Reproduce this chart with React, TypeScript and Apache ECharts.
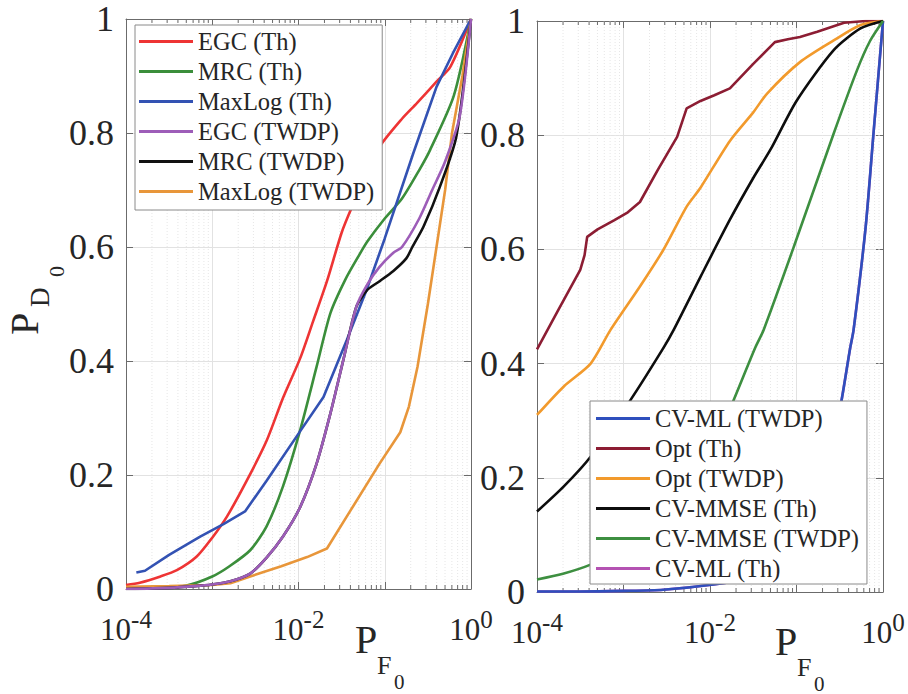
import React, { useEffect, useRef } from "react";
import * as echarts from "echarts";

const FONT = "'Liberation Serif', 'Times New Roman', serif";
const TXT = "#262626";
const AXIS = "#6b6b6b";

// ---- Left panel (x = log10 P_F0, y = P_D0) ----
const egcThLogPf = [-4, -3.84, -3.6, -3.41, -3.18, -3.0, -2.83, -2.6, -2.37, -2.18, -1.98, -1.83, -1.67, -1.5, -1.38, -1.2, -1.06, -0.8, -0.63, -0.4, -0.24, 0];
const egcThPd = [0.007, 0.011, 0.022, 0.033, 0.057, 0.09, 0.127, 0.19, 0.26, 0.335, 0.405, 0.47, 0.54, 0.625, 0.67, 0.73, 0.776, 0.825, 0.852, 0.89, 0.916, 1.0];

const mrcThLogPf = [-4, -3.6, -3.3, -3.0, -2.8, -2.56, -2.37, -2.18, -1.98, -1.79, -1.63, -1.46, -1.3, -1.2, -1.0, -0.8, -0.6, -0.475, -0.2, 0];
const mrcThPd = [0.001, 0.002, 0.006, 0.022, 0.04, 0.068, 0.11, 0.18, 0.279, 0.39, 0.484, 0.542, 0.585, 0.61, 0.65, 0.685, 0.735, 0.77, 0.865, 1.0];

const maxLogThLogPf = [-3.88, -3.78, -3.5, -3.14, -2.87, -2.62, -2.37, -1.98, -1.71, -1.44, -1.21, -1.0, -0.67, -0.4, -0.21, 0];
const maxLogThPd = [0.029, 0.032, 0.06, 0.092, 0.114, 0.136, 0.19, 0.277, 0.337, 0.437, 0.525, 0.615, 0.764, 0.881, 0.94, 1.0];

const egcTwdpLogPf = [-4, -3.5, -3.2, -3.0, -2.8, -2.56, -2.37, -2.18, -1.98, -1.79, -1.63, -1.48, -1.33, -1.2, -1.06, -0.9, -0.8, -0.6, -0.45, -0.3, -0.13, 0];
const egcTwdpPd = [0.0, 0.002, 0.005, 0.008, 0.013, 0.027, 0.055, 0.092, 0.144, 0.22, 0.308, 0.402, 0.495, 0.535, 0.565, 0.59, 0.6, 0.65, 0.7, 0.75, 0.83, 1.0];

const mrcTwdpLogPf = [-4, -3.5, -3.2, -3.0, -2.8, -2.56, -2.37, -2.18, -1.98, -1.79, -1.63, -1.48, -1.33, -1.2, -1.06, -0.9, -0.75, -0.68, -0.55, -0.36, -0.17, 0];
const mrcTwdpPd = [0.0, 0.002, 0.005, 0.008, 0.013, 0.027, 0.055, 0.092, 0.144, 0.22, 0.308, 0.402, 0.495, 0.525, 0.54, 0.558, 0.58, 0.6, 0.636, 0.706, 0.794, 1.0];

const maxLogTwdpLogPf = [-4, -3.5, -3.0, -2.79, -2.56, -2.2, -1.9, -1.67, -1.4, -1.06, -0.82, -0.72, -0.62, -0.5, -0.4, -0.3, -0.22, -0.1, 0];
const maxLogTwdpPd = [0.004, 0.005, 0.007, 0.01, 0.022, 0.04, 0.056, 0.071, 0.137, 0.22, 0.275, 0.32, 0.39, 0.5, 0.6, 0.7, 0.8, 0.9, 1.0];

// ---- Right panel ----
const cvMlTwdpLogPf = [-4, -3.5, -3.0, -2.54, -1.96, -1.57, -1.3, -1.0, -0.75, -0.6, -0.48, -0.38, -0.34, -0.2, -0.11, 0];
const cvMlTwdpPd = [0.001, 0.001, 0.002, 0.004, 0.013, 0.024, 0.045, 0.09, 0.17, 0.245, 0.335, 0.427, 0.459, 0.64, 0.803, 1.0];

const optThLogPf = [-4, -3.75, -3.5, -3.45, -3.42, -3.3, -3.11, -2.95, -2.81, -2.6, -2.38, -2.27, -2.11, -1.95, -1.77, -1.5, -1.25, -1.1, -0.96, -0.76, -0.45, -0.2, 0];
const optThPd = [0.425, 0.495, 0.564, 0.59, 0.622, 0.635, 0.651, 0.665, 0.683, 0.74, 0.797, 0.847, 0.86, 0.87, 0.882, 0.925, 0.963, 0.968, 0.972, 0.981, 0.997, 1.0, 1.0];

const optTwdpLogPf = [-4, -3.69, -3.38, -3.15, -2.81, -2.54, -2.27, -2.11, -1.77, -1.5, -1.34, -0.96, -0.57, -0.26, 0];
const optTwdpPd = [0.31, 0.36, 0.4, 0.459, 0.535, 0.599, 0.675, 0.708, 0.79, 0.84, 0.873, 0.928, 0.966, 0.993, 1.0];

const cvMmseThLogPf = [-4, -3.69, -3.38, -2.92, -2.54, -2.42, -2.11, -1.77, -1.5, -1.3, -1.0, -0.57, -0.26, 0];
const cvMmseThPd = [0.141, 0.185, 0.237, 0.336, 0.427, 0.459, 0.552, 0.652, 0.725, 0.775, 0.86, 0.949, 0.987, 1.0];

const cvMmseTwdpLogPf = [-4, -3.7, -3.38, -3.0, -2.5, -2.0, -1.73, -1.48, -1.38, -1.03, -0.57, -0.3, -0.15, 0];
const cvMmseTwdpPd = [0.022, 0.032, 0.048, 0.075, 0.135, 0.24, 0.335, 0.427, 0.459, 0.605, 0.803, 0.914, 0.965, 1.0];

const cvMlThLogPf = [-4, -3.5, -3.0, -2.54, -1.96, -1.57, -1.3, -1.0, -0.75, -0.6, -0.48, -0.38, -0.34, -0.2, -0.11, 0];
const cvMlThPd = [0.001, 0.001, 0.002, 0.004, 0.013, 0.024, 0.045, 0.09, 0.17, 0.245, 0.335, 0.427, 0.459, 0.64, 0.803, 1.0];

const leftNames = ["EGC (Th)", "MRC (Th)", "MaxLog (Th)", "EGC (TWDP)", "MRC (TWDP)", "MaxLog (TWDP)"];
const rightNames = ["CV-ML (TWDP)", "Opt (Th)", "Opt (TWDP)", "CV-MMSE (Th)", "CV-MMSE (TWDP)", "CV-ML (Th)"];

const xDecades = [-4, -3, -2, -1];
const xLabelExponents = [-4, -2, 0];
const minorMultipliers = [2, 3, 4, 5, 6, 7, 8, 9];

const zip = (xs: number[], ys: number[]) => xs.map((x, i) => [x, ys[i]]);

export default function App() {
  const ref = useRef<HTMLDivElement>(null);
  useEffect(() => {
    if (!ref.current) return;
    const chart = echarts.init(ref.current, null, { renderer: "svg" });

    const minorPositions: number[][] = [];
    xDecades.forEach((d) => minorMultipliers.forEach((k) => minorPositions.push([d + Math.log10(k), 0])));

    const xLabelFmt = (v: number) => {
      const r = Math.round(v);
      if (Math.abs(v - r) > 1e-9 || !xLabelExponents.includes(r)) return "";
      return `{b|10}{e|${r}}`;
    };
    const yLabelFmt = (v: number) => (v === 0 || v === 1 ? String(v) : v.toFixed(1));

    const mkX = (gridIndex: number, position: "top" | "bottom", labels: boolean) => ({
      type: "value",
      gridIndex,
      position,
      min: -4,
      max: 0,
      interval: 1,
      axisLine: { show: true, onZero: false, lineStyle: { color: AXIS, width: 1 } },
      axisTick: { show: true, inside: true, length: 7, lineStyle: { color: AXIS } },
      axisLabel: {
        show: labels,
        formatter: xLabelFmt,
        margin: 24,
        rich: {
          b: { fontFamily: FONT, fontSize: 31, color: TXT, verticalAlign: "bottom", lineHeight: 32 },
          e: { fontFamily: FONT, fontSize: 25, color: TXT, verticalAlign: "bottom", lineHeight: 25, padding: [0, 0, 13, 0] },
        },
      },
      splitLine: { show: labels, lineStyle: { color: "#e2e2e2", width: 1 } },
    });
    const mkY = (gridIndex: number, position: "left" | "right", labels: boolean) => ({
      type: "value",
      gridIndex,
      position,
      min: 0,
      max: 1,
      interval: 0.2,
      axisLine: { show: true, onZero: false, lineStyle: { color: AXIS, width: 1 } },
      axisTick: { show: true, inside: true, length: 7, lineStyle: { color: AXIS } },
      axisLabel: { show: labels, formatter: yLabelFmt, margin: 12, fontFamily: FONT, fontSize: 36, color: TXT },
      splitLine: { show: labels, lineStyle: { color: "#e2e2e2", width: 1 } },
    });

    const minorSeries = (xi: number, yi: number) => ({
      type: "custom",
      xAxisIndex: xi,
      yAxisIndex: yi,
      silent: true,
      z: 1,
      data: minorPositions,
      renderItem: (_p: any, api: any) => {
        const v = api.value(0);
        const top = api.coord([v, 1]);
        const bot = api.coord([v, 0]);
        return {
          type: "group",
          children: [
            { type: "line", shape: { x1: bot[0], y1: bot[1], x2: top[0], y2: top[1] }, style: { stroke: "#e6e6e6", lineWidth: 1, lineDash: [1, 2] } },
            { type: "line", shape: { x1: bot[0], y1: bot[1], x2: bot[0], y2: bot[1] - 4 }, style: { stroke: AXIS, lineWidth: 1 } },
            { type: "line", shape: { x1: top[0], y1: top[1], x2: top[0], y2: top[1] + 4 }, style: { stroke: AXIS, lineWidth: 1 } },
          ],
        };
      },
    });

    const line = (name: string, xs: number[], ys: number[], color: string, xi: number, yi: number, z = 2, smooth: number | boolean = false) => ({
      name,
      type: "line",
      xAxisIndex: xi,
      yAxisIndex: yi,
      data: zip(xs, ys),
      showSymbol: false,
      symbol: "none",
      smooth,
      z,
      lineStyle: { color, width: 2.6 },
      itemStyle: { color },
    });

    const legendBase = {
      orient: "vertical",
      icon: "rect",
      itemWidth: 54,
      itemHeight: 3,
      itemGap: 5,
      backgroundColor: "#ffffff",
      borderColor: "#8a8a8a",
      borderWidth: 1,
      borderRadius: 0,
      textStyle: { fontFamily: FONT, fontSize: 24.5, color: TXT, lineHeight: 24 },
      selectedMode: false,
    };

    const txt = (text: string, x: number, y: number, size: number) => ({
      type: "text",
      x,
      y,
      style: { text, fontFamily: FONT, fontSize: size, fill: TXT, verticalAlign: "top" },
    });
    const ylab = (x: number, y: number) => ({
      type: "group",
      x,
      y,
      rotation: Math.PI / 2,
      children: [txt("P", 0, 0, 40), txt("D", 28, 22, 27), txt("0", 58, 41, 22)],
    });
    const xlab = (x: number, y: number) => ({
      type: "group",
      x,
      y,
      children: [txt("P", 0, 0, 40), txt("F", 22, 33, 26), txt("0", 39, 52, 21)],
    });

    chart.setOption({
      animation: false,
      backgroundColor: "#ffffff",
      grid: [
        { left: 126, top: 19, width: 345, height: 570 },
        { left: 537, top: 21, width: 346, height: 571 },
      ],
      xAxis: [mkX(0, "bottom", true), mkX(0, "top", false), mkX(1, "bottom", true), mkX(1, "top", false)],
      yAxis: [mkY(0, "left", true), mkY(0, "right", false), mkY(1, "left", true), mkY(1, "right", false)],
      legend: [
        { ...legendBase, data: leftNames, left: 135, top: 25, padding: [4, 8, 6, 4] },
        { ...legendBase, data: rightNames, left: 590, top: 401, padding: [5, 8, 3, 6] },
      ],
      graphic: [ylab(4, 335), xlab(355, 619), xlab(775, 621)],
      series: [
        minorSeries(0, 0),
        minorSeries(2, 2),
        line(leftNames[0], egcThLogPf, egcThPd, "#ee3434", 0, 0, 2, 0.25),
        line(leftNames[1], mrcThLogPf, mrcThPd, "#3b8e3b", 0, 0, 2, 0.25),
        line(leftNames[2], maxLogThLogPf, maxLogThPd, "#3352b3", 0, 0),
        line(leftNames[3], egcTwdpLogPf, egcTwdpPd, "#9d5db8", 0, 0, 4, 0.25),
        line(leftNames[4], mrcTwdpLogPf, mrcTwdpPd, "#111111", 0, 0, 3, 0.25),
        line(leftNames[5], maxLogTwdpLogPf, maxLogTwdpPd, "#e8963a", 0, 0),
        line(rightNames[5], cvMlThLogPf, cvMlThPd, "#b452b2", 2, 2, 2, 0.25),
        line(rightNames[0], cvMlTwdpLogPf, cvMlTwdpPd, "#2f4fbd", 2, 2, 3, 0.25),
        line(rightNames[1], optThLogPf, optThPd, "#8c1d33", 2, 2, 3),
        line(rightNames[2], optTwdpLogPf, optTwdpPd, "#f29a2c", 2, 2, 3, 0.25),
        line(rightNames[3], cvMmseThLogPf, cvMmseThPd, "#0d0d0d", 2, 2, 3, 0.25),
        line(rightNames[4], cvMmseTwdpLogPf, cvMmseTwdpPd, "#3d8f40", 2, 2, 3, 0.25),
      ],
    });
    return () => chart.dispose();
  }, []);
  return <div ref={ref} style={{ position: "fixed", left: 0, top: 0, width: 908, height: 694, background: "#fff" }} />;
}
